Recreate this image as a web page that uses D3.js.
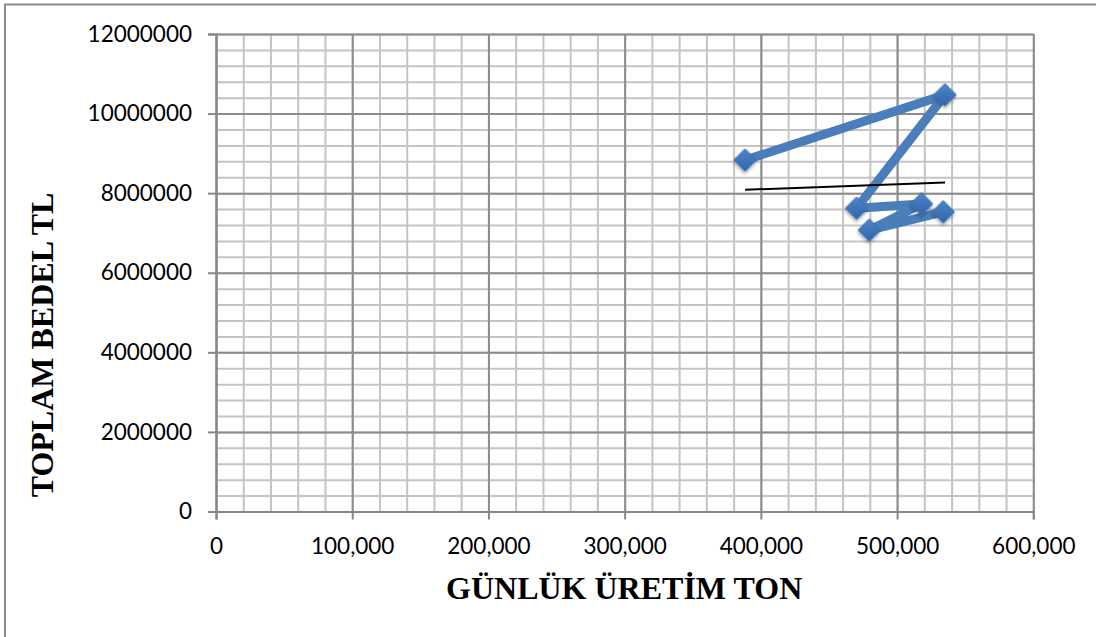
<!DOCTYPE html>
<html>
<head>
<meta charset="utf-8">
<script src="https://cdn.jsdelivr.net/npm/d3@7"></script>
<style>
  html, body { margin: 0; padding: 0; background: #fff; }
  svg { display: block; }
</style>
</head>
<body>
<div id="chart"></div>
<script>
// values (daily production in tons, total cost in TL)
const uretimTon = [388400, 535200, 470300, 518000, 479600, 533900]
const toplamBedel = [8830000, 10470000, 7620000, 7730000, 7070000, 7530000]
const xTicks = [0, 100000, 200000, 300000, 400000, 500000, 600000]
const yTicks = [0, 2000000, 4000000, 6000000, 8000000, 10000000, 12000000]
const xTitle = 'GÜNLÜK ÜRETİM TON'
const yTitle = 'TOPLAM BEDEL TL'

const W = 1096, H = 637
const MARGIN = { top: 34, right: 62.7, bottom: 125.5, left: 216 }
const innerW = W - MARGIN.left - MARGIN.right
const innerH = H - MARGIN.top - MARGIN.bottom

const svg = d3.select('#chart').append('svg')
  .attr('width', W).attr('height', H)

const defs = svg.append('defs')
const grad = defs.append('linearGradient').attr('id', 'mk')
  .attr('x1', 0).attr('y1', 0).attr('x2', 1).attr('y2', 1)
grad.append('stop').attr('offset', 0).attr('stop-color', '#4f86c8')
grad.append('stop').attr('offset', 1).attr('stop-color', '#2f64a8')
const shadow = defs.append('filter').attr('id', 'sh')
  .attr('x', '-30%').attr('y', '-30%').attr('width', '160%').attr('height', '160%')
shadow.append('feDropShadow').attr('dx', 1.5).attr('dy', 2).attr('stdDeviation', 1.5)
  .attr('flood-color', '#000').attr('flood-opacity', 0.3)

// outer chart border (cropped on right/bottom in the reference)
svg.append('rect')
  .attr('x', 5).attr('y', 4.5).attr('width', W + 10).attr('height', H + 10)
  .attr('fill', 'none').attr('stroke', '#8a8a8a').attr('stroke-width', 2)

const x = d3.scaleLinear().domain([0, 600000]).range([0, innerW])
const y = d3.scaleLinear().domain([0, 12000000]).range([innerH, 0])

const g = svg.append('g').attr('transform', `translate(${MARGIN.left},${MARGIN.top})`)

// minor grid
g.append('g').attr('class', 'minor-x')
  .call(d3.axisBottom(x).tickValues(d3.range(0, 600001, 20000)).tickSize(innerH).tickFormat(''))
  .call(s => s.select('.domain').remove())
  .call(s => s.selectAll('line').attr('stroke', '#c4c4c4').attr('stroke-width', 2))
g.append('g').attr('class', 'minor-y')
  .call(d3.axisLeft(y).tickValues(d3.range(0, 12000001, 400000)).tickSize(-innerW).tickFormat(''))
  .call(s => s.select('.domain').remove())
  .call(s => s.selectAll('line').attr('stroke', '#c4c4c4').attr('stroke-width', 2))

// major grid
g.append('g').attr('class', 'major-x')
  .call(d3.axisBottom(x).tickValues(xTicks).tickSize(innerH).tickFormat(''))
  .call(s => s.select('.domain').remove())
  .call(s => s.selectAll('line').attr('stroke', '#8c8c8c').attr('stroke-width', 2))
g.append('g').attr('class', 'major-y')
  .call(d3.axisLeft(y).tickValues(yTicks).tickSize(-innerW).tickFormat(''))
  .call(s => s.select('.domain').remove())
  .call(s => s.selectAll('line').attr('stroke', '#8c8c8c').attr('stroke-width', 2))

// axes
g.append('g').attr('class', 'x-axis')
  .attr('transform', `translate(0,${innerH})`)
  .call(d3.axisBottom(x).tickValues(xTicks).tickSize(8).tickPadding(19)
    .tickFormat(d => d === 0 ? '0' : d3.format(',')(d)))
  .call(s => s.selectAll('line, path').attr('stroke', '#868686').attr('stroke-width', 2))
  .call(s => s.selectAll('text').attr('fill', '#000')
    .style('font-family', 'Lato, "Open Sans", sans-serif').style('font-size', '22.5px'))

g.append('g').attr('class', 'y-axis')
  .call(d3.axisLeft(y).tickValues(yTicks).tickSize(8).tickPadding(16).tickFormat(d3.format('d')))
  .call(s => s.selectAll('line, path').attr('stroke', '#868686').attr('stroke-width', 2))
  .call(s => s.selectAll('text').attr('fill', '#000')
    .style('font-family', 'Lato, "Open Sans", sans-serif').style('font-size', '22.5px'))

const pts = uretimTon.map((v, i) => [v, toplamBedel[i]])

// series line
g.append('path')
  .attr('d', d3.line().x(d => x(d[0])).y(d => y(d[1]))(pts))
  .attr('fill', 'none').attr('stroke', '#4a7ebb').attr('stroke-width', 9)
  .attr('stroke-linejoin', 'round')

// linear trendline (least squares over the series)
const mx = d3.mean(uretimTon), my = d3.mean(toplamBedel)
const slope = d3.sum(pts, d => (d[0] - mx) * (d[1] - my)) / d3.sum(uretimTon, v => (v - mx) ** 2)
const ext = d3.extent(uretimTon)
g.append('path')
  .attr('d', d3.line().x(v => x(v)).y(v => y(my + slope * (v - mx)))(ext))
  .attr('stroke', '#000').attr('stroke-width', 2)

// diamond markers
g.selectAll('path.mk').data(pts).join('path')
  .attr('class', 'mk')
  .attr('transform', d => `translate(${x(d[0])},${y(d[1])})`)
  .attr('d', d3.symbol(d3.symbolSquare, 250)())
  .attr('transform', d => `translate(${x(d[0])},${y(d[1])}) rotate(45)`)
  .attr('fill', 'url(#mk)').attr('stroke', '#3a6eb0').attr('stroke-width', 1)
  .attr('filter', 'url(#sh)')

// axis titles
svg.append('text')
  .attr('x', MARGIN.left + x(300000) - 0.5).attr('y', 599)
  .attr('text-anchor', 'middle')
  .style('font-family', '"Liberation Serif", "Times New Roman", serif')
  .style('font-weight', 'bold').style('font-size', '32px')
  .text(xTitle)

svg.append('text')
  .attr('transform', 'translate(53,345) rotate(-90)')
  .attr('text-anchor', 'middle')
  .style('font-family', '"Liberation Serif", "Times New Roman", serif')
  .style('font-weight', 'bold').style('font-size', '32px')
  .text(yTitle)
</script>
</body>
</html>
